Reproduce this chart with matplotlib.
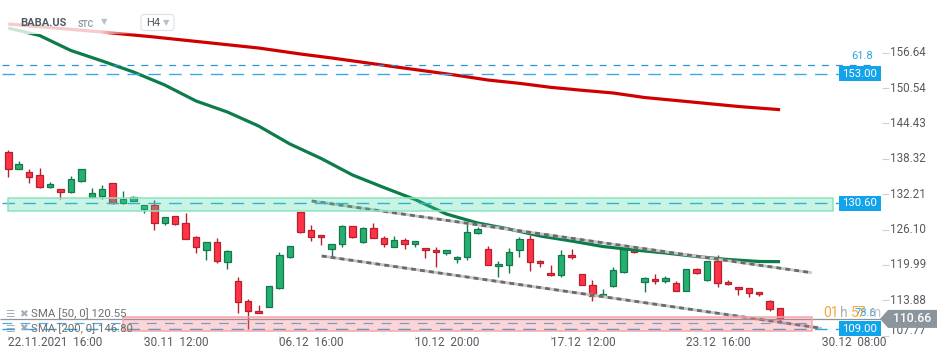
import matplotlib
matplotlib.use("Agg")
import matplotlib.pyplot as plt
from matplotlib.patches import Rectangle, Polygon, FancyBboxPatch
from matplotlib.transforms import Affine2D
import numpy as np

plt.rcParams['font.family'] = ['Roboto', 'DejaVu Sans']
plt.rcParams['lines.scale_dashes'] = False

# --- data (BABA.US, H4 candles) ---
opens = [139.54, 136.50, 136.09, 135.52, 133.50, 133.05, 132.63, 134.53, 131.77, 131.94,
         134.08, 130.63, 131.08, 129.64, 130.33, 127.17, 128.38, 127.17, 124.76, 122.51,
         123.89, 120.44, 117.16, 113.70, 111.98, 112.77, 115.95, 121.30, 129.07, 125.97,
         125.10, 122.79, 123.55, 126.71, 124.00, 126.31, 124.59, 123.03, 124.24, 123.55,
         122.86, 122.51, 122.00, 120.96, 121.30, 125.45, 122.68, 119.75, 119.92, 122.51,
         124.41, 120.61, 118.54, 118.19, 121.65, 118.37, 116.47, 114.57, 116.29, 118.81,
         122.51, 116.98, 117.50, 117.16, 116.81, 115.43, 119.23, 117.44, 120.61, 116.98,
         116.12, 115.95, 115.26, 113.70, 112.49]
highs = [139.84, 137.93, 136.55, 136.78, 134.26, 133.05, 135.34, 136.60, 133.22, 133.79,
         134.08, 132.75, 131.90, 130.40, 131.20, 128.25, 128.40, 128.95, 124.93, 123.95,
         124.59, 122.57, 117.85, 114.10, 113.06, 116.30, 122.22, 123.25, 129.10, 126.88,
         125.15, 123.60, 126.93, 126.75, 126.54, 127.23, 124.98, 124.98, 124.64, 124.10,
         122.90, 123.03, 122.55, 121.53, 127.35, 126.59, 123.25, 120.72, 122.91, 124.86,
         125.10, 120.84, 119.92, 122.51, 122.68, 118.40, 117.38, 115.78, 119.57, 122.86,
         122.55, 117.85, 118.37, 118.02, 117.16, 119.25, 119.40, 120.65, 121.65, 117.33,
         116.15, 116.00, 115.30, 113.88, 112.55]
lows = [135.22, 136.50, 134.08, 133.32, 133.32, 131.32, 132.36, 134.31, 131.77, 131.32,
        130.50, 130.50, 131.00, 128.90, 126.02, 126.88, 126.95, 124.41, 121.99, 120.84,
        120.27, 119.23, 111.63, 108.92, 111.60, 112.70, 115.90, 121.25, 125.45, 124.17,
        123.43, 121.41, 123.03, 124.70, 123.72, 124.55, 123.13, 123.00, 122.68, 123.03,
        121.13, 119.68, 121.65, 120.37, 120.89, 125.40, 119.90, 117.85, 118.54, 121.30,
        118.88, 119.68, 118.02, 117.85, 121.06, 116.45, 113.70, 114.50, 116.25, 118.54,
        122.00, 115.26, 116.64, 116.81, 115.40, 115.40, 118.37, 117.26, 116.12, 116.60,
        114.74, 114.53, 114.67, 112.08, 110.35]
closes = [136.50, 137.42, 135.22, 133.50, 133.91, 132.53, 134.77, 136.50, 132.36, 133.05,
          130.73, 131.32, 131.77, 130.33, 127.17, 128.21, 127.00, 124.51, 123.03, 123.89,
          120.61, 122.34, 113.53, 111.98, 111.63, 116.29, 121.65, 123.20, 125.72, 124.89,
          124.76, 123.55, 126.71, 124.76, 126.31, 124.59, 123.55, 124.24, 123.55, 124.07,
          122.51, 122.17, 122.51, 121.30, 125.62, 126.14, 119.92, 120.09, 122.17, 124.41,
          120.44, 120.27, 118.19, 121.65, 121.30, 116.47, 114.57, 114.91, 119.06, 122.68,
          122.17, 117.67, 117.16, 117.67, 115.43, 119.23, 118.54, 120.61, 116.81, 116.64,
          115.78, 115.08, 114.91, 112.32, 110.66]

sma50_idx = [0, 3, 6, 9, 12, 15, 18, 21, 24, 27, 30, 33, 36, 39, 42, 45, 48, 51, 54, 57,
             60, 63, 66, 69, 72, 74]
sma50_val = [160.91, 159.61, 157.02, 155.21, 153.31, 151.06, 148.30, 146.40, 143.98, 140.87,
             138.37, 135.52, 133.36, 131.29, 128.78, 127.23, 126.19, 124.98, 124.12, 123.17,
             122.57, 122.05, 121.44, 120.92, 120.58, 120.55]
sma200_idx = [0, 9, 14, 19, 24, 28, 31, 34, 37, 40, 43, 46, 49, 52, 55, 58, 61, 64, 67, 70, 74]
sma200_val = [161.60, 160.21, 159.35, 158.40, 157.45, 156.42, 155.73, 154.98, 154.22, 153.48,
              152.74, 151.92, 151.35, 150.66, 150.15, 149.68, 148.90, 148.39, 147.87, 147.35,
              146.80]

ytick_vals = [156.64, 150.54, 144.43, 138.32, 132.21, 126.10, 119.99, 113.88, 107.77]
xtick_idx = [0, 13, 26, 39, 52, 65, 78]
xtick_labels = ["22.11.2021  16:00", "30.11  12:00", "06.12  16:00", "10.12  20:00",
                "17.12  12:00", "23.12  16:00", "30.12  08:00"]

# drawn objects
upper_channel = ([29.09, 77.03], [131.03, 118.64])
lower_channel = ([30.05, 77.99], [121.53, 109.04])
level_153 = 153.00
level_1306 = 130.60
level_109 = 109.00
fib_618 = 154.52
fib_786 = 110.01
last_price = 110.66
green_zone = (129.35, 131.49)
red_zone = (108.63, 110.94)

GREEN_F, GREEN_E = '#25b071', '#14784b'
RED_F, RED_E = '#ff3346', '#b8202f'
BLUE = '#12a4ea'
TXT = '#555b61'

W, H = 950, 361
fig = plt.figure(figsize=(W / 100, H / 100), dpi=100)
PLOT_W, PLOT_H = 882, 336
ax = fig.add_axes([0, 1 - PLOT_H / H, PLOT_W / W, PLOT_H / H])
X0, X1 = -0.796, 83.77
Y0, Y1 = 107.71, 165.742
px = Affine2D().scale(1 / W, -1 / H).translate(0, 1) + fig.transFigure


def py(p):
    return PLOT_H * (Y1 - p) / (Y1 - Y0)


def pxi(i):
    return PLOT_W * (i - X0) / (X1 - X0)


def ix(xp):
    return X0 + xp / PLOT_W * (X1 - X0)


def pp(yp):
    return Y1 - yp / PLOT_H * (Y1 - Y0)


def hline(v, x0, x1, **kw):
    ax.plot([ix(x0), ix(x1)], [v, v], solid_capstyle='butt', dash_capstyle='butt', **kw)


# candles
for i, (o, h, l, c) in enumerate(zip(opens, highs, lows, closes)):
    up = c >= o
    fc, ec = (GREEN_F, GREEN_E) if up else (RED_F, RED_E)
    ax.vlines(i, l, h, color=ec, lw=1.0, zorder=2)
    bot = min(o, c)
    ht = max(abs(c - o), 0.3)
    ax.add_patch(Rectangle((i - 0.31, bot), 0.62, ht, facecolor=fc, edgecolor=ec,
                           lw=0.9, zorder=2.5))

# moving averages
ax.plot(sma200_idx, sma200_val, color='#d10000', lw=2.3, zorder=3, solid_capstyle='butt')
ax.plot(sma50_idx, sma50_val, color='#0d7c4b', lw=2.3, zorder=3, solid_capstyle='butt')

# channel lines
for xs, ys in (upper_channel, lower_channel):
    ax.plot(xs, ys, color='#c6c6c6', lw=2.0, zorder=3.2, solid_capstyle='butt')
    ax.plot(xs, ys, color='#6a6a6a', lw=2.0, zorder=3.3, dashes=(3.5, 3), dash_capstyle='butt')

# horizontal levels
hline(fib_618, 2, 875, color='#2a95d3', lw=0.9, dashes=(5, 5), zorder=3.5)
hline(level_153, 2, 839, color='#3aaae6', lw=1.0, dashes=(9, 6), zorder=3.5)
hline(level_1306, 2, 839, color='#2aa6e4', lw=1.0, dashes=(9, 6), zorder=3.5)
hline(fib_786, 2, 812, color='#5aa8dc', lw=0.9, dashes=(7, 6), zorder=3.5)
hline(level_109, 2, 839, color='#2aa6e4', lw=1.0, dashes=(9, 6), zorder=3.5)
hline(last_price, 0, 882, color='#8c959b', lw=0.9, zorder=3.6)

# zones (drawn over everything, translucent)
ax.add_patch(Rectangle((ix(8.3), green_zone[0]), ix(833.3) - ix(8.3),
                       green_zone[1] - green_zone[0],
                       facecolor=(0.247, 0.851, 0.627, 0.28), edgecolor='#8ee3c3',
                       lw=1.1, zorder=4))
ax.add_patch(Rectangle((ix(123.3), red_zone[0]), ix(812.3) - ix(123.3),
                       red_zone[1] - red_zone[0],
                       facecolor=(0.949, 0.427, 0.459, 0.28), edgecolor='#f5a5aa',
                       lw=1.1, zorder=4))

# faded header strip over the start of the lines
xs_fade = np.arange(150)
alpha = np.where(xs_fade < 100, 0.8, 0.8 * (140 - xs_fade) / 40.0).clip(0, 0.8)
img = np.ones((1, 150, 4))
img[0, :, 3] = alpha
ax.imshow(img, extent=(ix(0), ix(150), pp(34), pp(10)), aspect='auto', zorder=5,
          interpolation='bilinear')

ax.set_xlim(X0, X1)
ax.set_ylim(Y0, Y1)
for s in ax.spines.values():
    s.set_visible(False)
ax.set_xticks(xtick_idx)
ax.set_yticks(ytick_vals)
ax.tick_params(axis='x', length=3, color='#d0d0d0', labelbottom=False)
ax.tick_params(axis='y', left=False, right=True, labelleft=False, labelright=False,
               length=5, color='#d0d0d0', width=0.8)

# axis labels
for v in ytick_vals:
    fig.text(890, min(py(v), 331), f"{v:.2f}", transform=px, fontsize=8.4, color=TXT,
             va='center', ha='left')
for i, lab in zip(xtick_idx, xtick_labels):
    fig.text(pxi(i), 343, lab, transform=px, fontsize=8.5, color=TXT, va='center', ha='left')


def tag(p, text, x0=839.3, x1=880.7, h=14.6, color=BLUE):
    yc = py(p)
    fig.add_artist(Rectangle((x0, yc - h / 2), x1 - x0, h, transform=px,
                             facecolor=color, edgecolor='none', zorder=6))
    fig.text((x0 + x1) / 2, yc, text, transform=px, fontsize=8.2, color='white',
             ha='center', va='center', zorder=7)


tag(level_153, "153.00")
tag(level_1306, "130.60")
tag(level_109, "109.00")

# last price tag with arrow
yc = py(last_price)
fig.add_artist(Polygon([(880, yc), (888, yc - 9), (937, yc - 9), (937, yc + 9), (888, yc + 9)],
                       closed=True, transform=px, facecolor='#8c959b', edgecolor='none',
                       zorder=6))
fig.text(912, yc, f"{last_price:.2f}", transform=px, fontsize=8.8, color='white',
         ha='center', va='center', fontweight='medium', zorder=7)

# fibo labels and countdown
fig.text(873, py(fib_618) - 9, "61.8", transform=px, fontsize=8, color='#2aa3e0',
         ha='right', va='center')
fig.text(876, 313, "78.6", transform=px, fontsize=8, color='#2aa3e0', ha='right', va='center')
fig.text(823, 313, "01", transform=px, fontsize=10, color='#f7a12a', va='center', alpha=0.95)
fig.text(840, 313, "h", transform=px, fontsize=10, color='#a5a5a5', va='center', alpha=0.9)
fig.text(851, 313, "57", transform=px, fontsize=10, color='#f7a12a', va='center', alpha=0.9)
fig.text(869, 313, "m", transform=px, fontsize=10, color='#b5b5b5', va='center', alpha=0.8)

# legend of indicators
for yy, lab in ((314, "SMA [50, 0] 120.55"), (328.5, "SMA [200, 0] 146.80")):
    fig.text(5, yy, "☰", transform=px, fontsize=7.5, color='#a3abb3', va='center')
    fig.text(19, yy, "✖", transform=px, fontsize=7.5, color='#a3abb3', va='center')
    fig.text(31, yy, lab, transform=px, fontsize=8.2, color='#6e6e6e', va='center')

# header
fig.text(20, 23.5, "BABA.US", transform=px, fontsize=8, fontweight='bold', color='#505a64',
         va='center')
fig.text(78, 24.5, "STC", transform=px, fontsize=6.2, fontweight='bold', color='#8d9aa6',
         va='center')
fig.text(101, 22, "▼", transform=px, fontsize=6, color='#b8c0c8', va='center')
fig.add_artist(FancyBboxPatch((141, 14.5), 33, 16, boxstyle="round,pad=0,rounding_size=3",
                              transform=px, facecolor='white', edgecolor='#dde2e6', lw=0.8))
fig.text(146, 23, "H4", transform=px, fontsize=8, color='#505a64', va='center')
fig.text(163, 23, "▼", transform=px, fontsize=6, color='#b8c0c8', va='center')

fig.savefig("out.png", dpi=100)
